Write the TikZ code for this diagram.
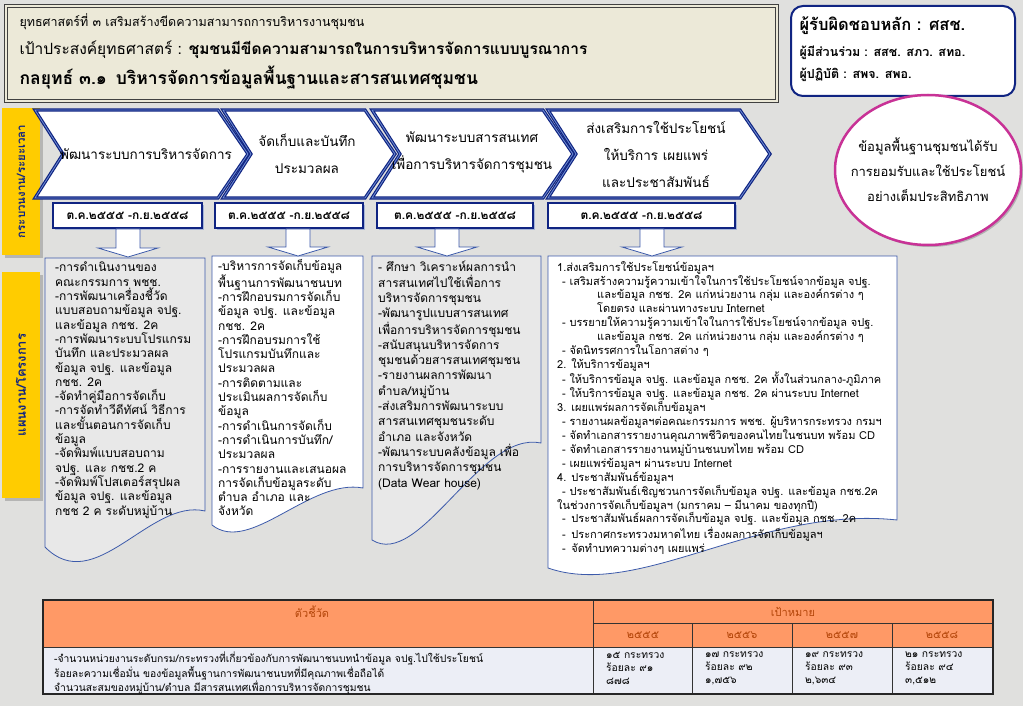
\documentclass[tikz,border=0pt]{standalone}
\usepackage{fontspec}
\setmainfont[Script=Thai]{Loma}
\usepackage{graphicx}
\usepackage{tikz}
\usetikzlibrary{calc,shadows}

\definecolor{fons}{RGB}{224,224,222}
\definecolor{titfill}{RGB}{236,233,216}
\definecolor{navy}{RGB}{16,36,130}
\definecolor{lblue}{RGB}{110,140,210}
\definecolor{gold}{RGB}{255,204,0}
\definecolor{rosa}{RGB}{200,50,150}
\definecolor{linia}{RGB}{60,90,170}
\definecolor{gris}{RGB}{232,232,232}
\definecolor{taronja}{RGB}{255,153,102}
\definecolor{hdrtext}{RGB}{180,70,10}
\definecolor{fila}{RGB}{236,238,246}

\newcommand\dnarrow[2]{%
  \draw[blkarr] ($(#1.south -| #2)+(-12,0)$) -- ($(#2)+(-12,-9)$) -- ($(#2)+(-30,-9)$) -- (#2)
    -- ($(#2)+(30,-9)$) -- ($(#2)+(12,-9)$) -- ($(#1.south -| #2)+(12,0)$) -- cycle;}
\newcommand\chevron[2]{%
  \draw[chevpath] (#1,110) -- (#2-30,110) -- (#2,154) -- (#2-30,198) -- (#1,198) -- (#1+28,154) -- cycle;}

\begin{document}
\begin{tikzpicture}[x=1pt, y=-1pt,
  titlebox/.style={draw=black!75, line width=1.2pt, double=titfill, double distance=1.6pt, fill=titfill},
  chevpath/.style={fill=white, draw=navy, line width=1.2pt, double=lblue, double distance=0.8pt, line join=miter},
  chevtext/.style={align=center, inner sep=0pt, font=\fontsize{13.5}{27}\selectfont},
  datebox/.style={draw=navy, line width=1.8pt, fill=white, minimum height=25pt, inner sep=0pt,
    font=\bfseries\fontsize{12}{13}\selectfont,
    drop shadow={shadow xshift=2pt, shadow yshift=-2pt, fill=lblue}},
  sidebox/.style={fill=gold, inner sep=0pt, text=navy, font=\bfseries\fontsize{11.5}{12}\selectfont,
    drop shadow={shadow xshift=3pt, shadow yshift=-3pt, fill=black!45}},
  blkarr/.style={draw=linia, fill=white, line width=0.8pt},
  docbox/.style={draw=linia, line width=0.8pt},
  doctext/.style={anchor=north west, inner sep=0pt, align=left},
  hdr/.style={text=hdrtext, font=\fontsize{11}{12}\selectfont},
  celltext/.style={anchor=north west, inner sep=0pt, align=left, font=\fontsize{10.3}{13}\selectfont}]

% Fons
\useasboundingbox (0,0) rectangle (1023,706);
\fill[fons] (0,0) rectangle (1023,706);

% Títol
\node[titlebox, minimum width=771pt, minimum height=95pt] (title) at (391.5,53.5) {};
\node[anchor=west, font=\fontsize{12.5}{16}\selectfont] (tl1) at (16,22)
  {ยุทธศาสตร์ที่ ๓ เสริมสร้างขีดความสามารถการบริหารงานชุมชน};
\node[anchor=west, font=\fontsize{15.5}{16}\selectfont] (tl2) at (16,50)
  {เป้าประสงค์ยุทธศาสตร์ : {\bfseries\fontsize{15.5}{16}\selectfont ชุมชนมีขีดความสามารถในการบริหารจัดการแบบบูรณาการ}};
\node[anchor=west, font=\bfseries\fontsize{17.5}{18}\selectfont] (tl3) at (16,78)
  {กลยุทธ์ ๓.๑\enspace บริหารจัดการข้อมูลพื้นฐานและสารสนเทศชุมชน};

% Responsables
\node[draw=navy, line width=2pt, rounded corners=12pt, fill=white,
  minimum width=224pt, minimum height=90pt] (resp) at (903,51) {};
\node[anchor=west, font=\bfseries\fontsize{16.5}{18}\selectfont] (resp1) at (796,26) {ผู้รับผิดชอบหลัก : ศสช.};
\node[anchor=west, font=\bfseries\fontsize{12.5}{14}\selectfont] (resp2) at (796,53) {ผู้มีส่วนร่วม : สสช. สภว. สทอ.};
\node[anchor=west, font=\bfseries\fontsize{12.5}{14}\selectfont] (resp3) at (796,75) {ผู้ปฏิบัติ : สพจ. สพอ.};

% Objectiu
\fill[black!30] (930,172) ellipse [x radius=93, y radius=75];
\draw[rosa, line width=2.5pt, fill=white] (928,170) ellipse [x radius=93, y radius=75];
\node[align=center, font=\fontsize{13}{25}\selectfont] (goal) at (928,170)
  {ข้อมูลพื้นฐานชุมชนได้รับ\\การยอมรับและใช้ประโยชน์\\อย่างเต็มประสิทธิภาพ};

% Etiquetes laterals
\node[sidebox, minimum width=38pt, minimum height=147pt] (lbl1) at (21,181.5)
  {\rotatebox{90}{กระบวนงาน/ระยะเวลา}};
\node[sidebox, minimum width=38pt, minimum height=226pt] (lbl2) at (21,385)
  {\rotatebox{90}{\fontsize{13}{14}\selectfont แผนงาน/โครงการ}};

% Fletxes de procés
\chevron{35}{248}
\chevron{223}{395}
\chevron{372}{573}
\chevron{548}{770}
\node[chevtext] (ch1) at (146,154) {พัฒนาระบบการบริหารจัดการ};
\node[chevtext] (ch2) at (307,154) {จัดเก็บและบันทึก\\ประมวลผล};
\node[chevtext] (ch3) at (472,152) {พัฒนาระบบสารสนเทศ\\เพื่อการบริหารจัดการชุมชน};
\node[chevtext] (ch4) at (656,154) {ส่งเสริมการใช้ประโยชน์\\ให้บริการ เผยแพร่\\และประชาสัมพันธ์};

% Dates
\node[datebox, minimum width=149pt] (d1) at (127.5,215.5) {ต.ค.๒๕๕๕ -ก.ย.๒๕๕๘};
\node[datebox, minimum width=148pt] (d2) at (289,215.5) {ต.ค.๒๕๕๕ -ก.ย.๒๕๕๘};
\node[datebox, minimum width=156pt] (d3) at (455,215.5) {ต.ค.๒๕๕๕ -ก.ย.๒๕๕๘};
\node[datebox, minimum width=187pt] (d4) at (641.5,215.5) {ต.ค.๒๕๕๕ -ก.ย.๒๕๕๘};

% Caixes de text
\draw[docbox, fill=gris] (45,258) -- (205,258) -- (205,511) .. controls (150,498) and (95,598) .. (45,547) -- cycle;
\draw[docbox, fill=white] (212,256) -- (363,256) -- (363,488) .. controls (310,478) and (250,555) .. (212,525) -- cycle;
\draw[docbox, fill=gris] (372,256) -- (541,256) -- (541,443) .. controls (480,430) and (420,570) .. (372,540) -- cycle;
\draw[docbox, fill=white] (548,256) -- (897,256) -- (897,520) .. controls (760,505) and (640,600) .. (548,568) -- cycle;

\coordinate (b1top) at (128,257);
\coordinate (b2top) at (298,256);
\coordinate (b3top) at (447,256);
\coordinate (b4top) at (652,256);
\dnarrow{d1}{b1top}
\dnarrow{d2}{b2top}
\dnarrow{d3}{b3top}
\dnarrow{d4}{b4top}

\node[doctext, font=\fontsize{12}{14.3}\selectfont] (t1) at (55,262) {%
-การดำเนินงานของ\\
คณะกรรมการ พชช.\\
-การพัฒนาเครื่องชี้วัด\\
แบบสอบถามข้อมูล จปฐ.\\
และข้อมูล กชช. 2ค\\
-การพัฒนาระบบโปรแกรม\\
บันทึก และประมวลผล\\
ข้อมูล จปฐ. และข้อมูล\\
กชช. 2ค\\
-จัดทำคู่มือการจัดเก็บ\\
-การจัดทำวีดีทัศน์ วิธีการ\\
และขั้นตอนการจัดเก็บ\\
ข้อมูล\\
-จัดพิมพ์แบบสอบถาม\\
จปฐ. และ กชช.2 ค\\
-จัดพิมพ์โปสเตอร์สรุปผล\\
ข้อมูล จปฐ. และข้อมูล\\
กชช 2 ค ระดับหมู่บ้าน};

\node[doctext, font=\fontsize{12}{14.3}\selectfont] (t2) at (218,259) {%
-บริหารการจัดเก็บข้อมูล\\
พื้นฐานการพัฒนาชนบท\\
-การฝึกอบรมการจัดเก็บ\\
ข้อมูล จปฐ. และข้อมูล\\
กชช. 2ค\\
-การฝึกอบรมการใช้\\
โปรแกรมบันทึกและ\\
ประมวลผล\\
-การติดตามและ\\
ประเมินผลการจัดเก็บ\\
ข้อมูล\\
-การดำเนินการจัดเก็บ\\
-การดำเนินการบันทึก/\\
ประมวลผล\\
-การรายงานและเสนอผล\\
การจัดเก็บข้อมูลระดับ\\
ตำบล อำเภอ และ\\
จังหวัด};

\node[doctext, font=\fontsize{12}{15.3}\selectfont] (t3) at (378,261) {%
- ศึกษา วิเคราะห์ผลการนำ\\
สารสนเทศไปใช้เพื่อการ\\
บริหารจัดการชุมชน\\
-พัฒนารูปแบบสารสนเทศ\\
เพื่อการบริหารจัดการชุมชน\\
-สนับสนุนบริหารจัดการ\\
ชุมชนด้วยสารสนเทศชุมชน\\
-รายงานผลการพัฒนา\\
ตำบล/หมู่บ้าน\\
-ส่งเสริมการพัฒนาระบบ\\
สารสนเทศชุมชนระดับ\\
อำเภอ และจังหวัด\\
-พัฒนาระบบคลังข้อมูล เพื่อ\\
การบริหารจัดการชุมชน\\
(Data Wear house)};

\node[doctext, font=\fontsize{11}{13.9}\selectfont] (t4) at (557,261) {%
1.ส่งเสริมการใช้ประโยชน์ข้อมูลฯ\\
\hspace*{5pt}- เสริมสร้างความรู้ความเข้าใจในการใช้ประโยชน์จากข้อมูล จปฐ.\\
\hspace*{40pt}และข้อมูล กชช. 2ค แก่หน่วยงาน กลุ่ม และองค์กรต่าง ๆ\\
\hspace*{40pt}โดยตรง และผ่านทางระบบ Internet\\
\hspace*{5pt}- บรรยายให้ความรู้ความเข้าใจในการใช้ประโยชน์จากข้อมูล จปฐ.\\
\hspace*{40pt}และข้อมูล กชช. 2ค แก่หน่วยงาน กลุ่ม และองค์กรต่าง ๆ\\
\hspace*{5pt}- จัดนิทรรศการในโอกาสต่าง ๆ\\
2. ให้บริการข้อมูลฯ\\
\hspace*{5pt}- ให้บริการข้อมูล จปฐ. และข้อมูล กชช. 2ค ทั้งในส่วนกลาง-ภูมิภาค\\
\hspace*{5pt}- ให้บริการข้อมูล จปฐ. และข้อมูล กชช. 2ค ผ่านระบบ Internet\\
3. เผยแพร่ผลการจัดเก็บข้อมูลฯ\\
\hspace*{5pt}- รายงานผลข้อมูลฯต่อคณะกรรมการ พชช. ผู้บริหารกระทรวง กรมฯ\\
\hspace*{5pt}- จัดทำเอกสารรายงานคุณภาพชีวิตของคนไทยในชนบท พร้อม CD\\
\hspace*{5pt}- จัดทำเอกสารรายงานหมู่บ้านชนบทไทย พร้อม CD\\
\hspace*{5pt}- เผยแพร่ข้อมูลฯ ผ่านระบบ Internet\\
4. ประชาสัมพันธ์ข้อมูลฯ\\
\hspace*{5pt}- ประชาสัมพันธ์เชิญชวนการจัดเก็บข้อมูล จปฐ. และข้อมูล กชช.2ค\\
ในช่วงการจัดเก็บข้อมูลฯ (มกราคม – มีนาคม ของทุกปี)\\
\hspace*{5pt}-\enspace ประชาสัมพันธ์ผลการจัดเก็บข้อมูล จปฐ. และข้อมูล กชช. 2ค\\
\hspace*{5pt}-\enspace ประกาศกระทรวงมหาดไทย เรื่องผลการจัดเก็บข้อมูลฯ\\
\hspace*{5pt}-\enspace จัดทำบทความต่างๆ เผยแพร่};

% Taula
\fill[taronja] (43,600) rectangle (993,647);
\fill[fila] (43,647) rectangle (993,694);
\draw[black!80, line width=0.8pt] (593,600) -- (593,694) (593,623) -- (993,623) (43,647) -- (993,647);
\foreach \x in {692,792,892} \draw[black!80, line width=0.8pt] (\x,623) -- (\x,694);
\draw[black!85, line width=1.2pt] (43,600) rectangle (993,694);

\node[hdr] (kpi) at (312,612) {ตัวชี้วัด};
\node[hdr] (target) at (793,612) {เป้าหมาย};
\node[celltext] (kpitext) at (54,652) {%
-จำนวนหน่วยงานระดับกรม/กระทรวงที่เกี่ยวข้องกับการพัฒนาชนบทนำข้อมูล จปฐ.ไปใช้ประโยชน์\\
ร้อยละความเชื่อมั่น ของข้อมูลพื้นฐานการพัฒนาชนบทที่มีคุณภาพเชื่อถือได้\\
จำนวนสะสมของหมู่บ้าน/ตำบล มีสารสนเทศเพื่อการบริหารจัดการชุมชน};

\foreach \x/\yr/\na/\nb/\nc [count=\i] in
  {593/๒๕๕๕/๑๕/๙๑/๘๗๘, 692/๒๕๕๖/๑๗/๙๒/{๑,๗๕๖}, 792/๒๕๕๗/๑๙/๙๓/{๒,๖๓๔}, 892/๒๕๕๘/๒๑/๙๔/{๓,๕๑๒}} {
  \node[hdr] (yr\i) at (\x+50,635) {\yr};
  \node[celltext] (val\i) at (\x+13,652) {\na\ กระทรวง\\ร้อยละ \nb\\\nc};
}

\end{tikzpicture}
\end{document}
